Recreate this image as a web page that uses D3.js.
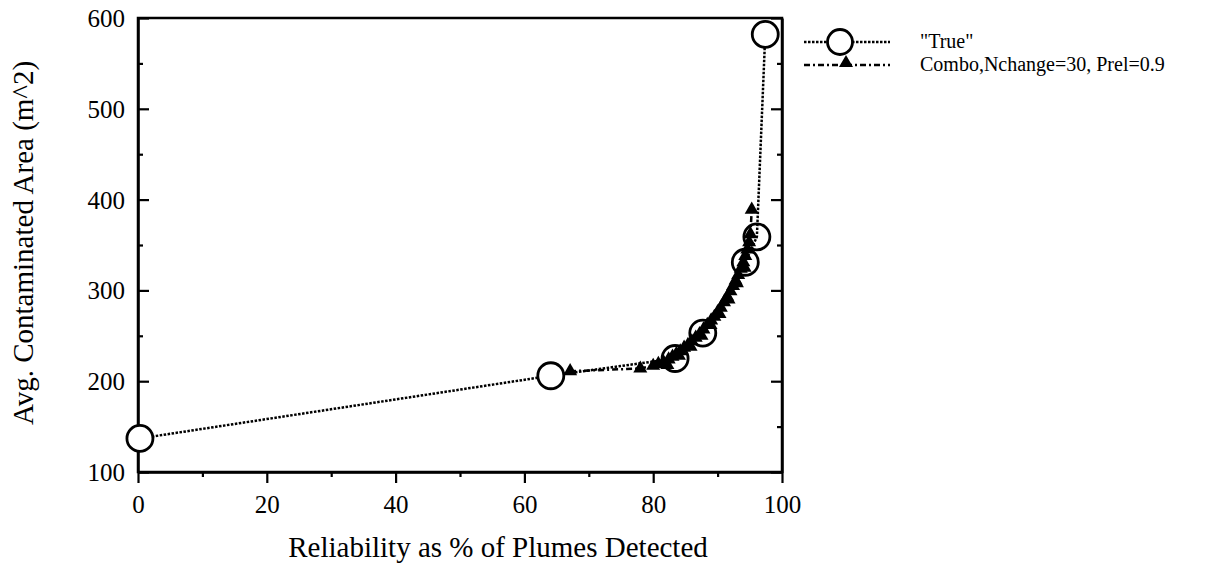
<!DOCTYPE html>
<html><head><meta charset="utf-8">
<script src="https://cdn.jsdelivr.net/npm/d3@7"></script>
<style>body{margin:0;background:#fff}svg{display:block}text{text-rendering:optimizeLegibility}</style>
</head><body>
<svg id="c" width="1230" height="573"></svg>
<script>
const xTicks = [0, 20, 40, 60, 80, 100];
const yTicks = [100, 200, 300, 400, 500, 600];
const trueX = [0.3, 64.1, 83.4, 87.7, 94.3, 96.1, 97.4];
const trueY = [137, 206, 225, 253, 331, 359, 582];
const comboX = [67.1, 78.0, 80.0, 80.8, 81.6, 82.4, 83.0, 83.6, 84.2, 84.8, 85.4, 86.0, 86.6, 87.2, 87.8, 88.4, 89.0, 89.5, 90.0, 90.5, 91.0, 91.5, 92.0, 92.4, 92.8, 93.2, 93.6, 94.0, 94.3, 94.6, 94.9, 95.1, 95.3];
const comboY = [211, 214, 217, 219, 221, 224, 227, 230, 233, 237, 240, 244, 248, 252, 257, 262, 267, 271, 276, 281, 287, 293, 299, 305, 311, 317, 324, 331, 338, 345, 353, 362, 389];
const extraX = [82.2, 84.0, 85.8, 87.5, 88.9, 90.3, 91.7, 93.0, 94.2];
const extraY = [218, 228, 238, 250, 262, 274, 290, 308, 325];
const seriesNames = ['"True"', 'Combo,Nchange=30, Prel=0.9'];

const svg = d3.select("#c");
const L = 138, R = 782, T = 18, B = 472;
const x = d3.scaleLinear().domain([0, 100]).range([L, R]);
const y = d3.scaleLinear().domain([100, 600]).range([B, T]);
const font = "Times New Roman, Liberation Serif, serif";

svg.append("rect").attr("x", L).attr("y", T).attr("width", R - L).attr("height", B - T)
  .attr("fill", "none").attr("stroke", "#000").attr("stroke-width", 2.5);

const xa = svg.append("g").attr("transform", `translate(0,${B})`)
  .call(d3.axisBottom(x).tickValues(xTicks).tickSize(11).tickSizeOuter(0).tickPadding(10));
svg.append("g").attr("transform", `translate(0,${B})`)
  .call(d3.axisBottom(x).tickValues(d3.range(10, 100, 20)).tickSize(5).tickFormat("").tickSizeOuter(0))
  .call(g => g.select(".domain").remove());
const ya = svg.append("g").attr("transform", `translate(${L},0)`)
  .call(d3.axisLeft(y).tickValues(yTicks).tickSize(-11).tickSizeOuter(0).tickPadding(12));
svg.append("g").attr("transform", `translate(${L},0)`)
  .call(d3.axisLeft(y).tickValues(d3.range(150, 600, 100)).tickSize(-5).tickFormat("").tickSizeOuter(0))
  .call(g => g.select(".domain").remove());
svg.append("g").attr("transform", `translate(${R},0)`)
  .call(d3.axisRight(y).tickValues(yTicks).tickSize(-11).tickFormat("").tickSizeOuter(0));
svg.append("g").attr("transform", `translate(${R},0)`)
  .call(d3.axisRight(y).tickValues(d3.range(150, 600, 100)).tickSize(-5).tickFormat("").tickSizeOuter(0))
  .call(g => g.select(".domain").remove());
svg.selectAll("g").attr("font-family", null).attr("font-size", null);
svg.selectAll(".tick line").attr("stroke", "#000").attr("stroke-width", 2.2);
svg.selectAll(".domain").attr("stroke", "#000").attr("stroke-width", 2.5);
svg.selectAll(".tick text").attr("font-family", font).attr("font-size", 25).attr("fill", "#000");
ya.selectAll(".tick text").attr("x", -13).attr("dy", "0.34em");
xa.selectAll(".tick text").attr("dy", "0.78em");

svg.append("text").attr("x", 498).attr("y", 557).attr("text-anchor", "middle")
  .attr("font-family", font).attr("font-size", 29).text("Reliability as % of Plumes Detected");
svg.append("text").attr("transform", `translate(33,243) rotate(-90)`).attr("text-anchor", "middle")
  .attr("font-family", font).attr("font-size", 29).text("Avg. Contaminated Area (m^2)");

const trueData = trueX.map((v, i) => [v, trueY[i]]);
const comboData = comboX.map((v, i) => [v, comboY[i]]);
const extraData = extraX.map((v, i) => [v, extraY[i]]);
const line = d3.line().x(d => x(d[0])).y(d => y(d[1]));
const tri = d3.symbol().type(d3.symbolTriangle).size(85);

svg.append("path").attr("d", line(comboData)).attr("fill", "none").attr("stroke", "#000")
  .attr("stroke-width", 2.5).attr("stroke-dasharray", "6,3,2,3");
svg.append("path").attr("d", line(trueData)).attr("fill", "none").attr("stroke", "#000")
  .attr("stroke-width", 2.5).attr("stroke-dasharray", "2.5,1.5");
svg.selectAll(".tri").data(comboData.concat(extraData)).join("path").attr("class", "tri")
  .attr("d", tri).attr("transform", d => `translate(${x(d[0])},${y(d[1])})`).attr("fill", "#000");
svg.selectAll(".circ").data(trueData).join("circle").attr("class", "circ")
  .attr("cx", d => x(d[0])).attr("cy", d => y(d[1])).attr("r", 13)
  .attr("fill", "none").attr("stroke", "#000").attr("stroke-width", 2.8);
svg.selectAll(".circ").filter(d => d[0] < 70 || d[1] > 500).attr("fill", "#fff");

const lg = svg.append("g");
lg.append("line").attr("x1", 804).attr("x2", 890).attr("y1", 42).attr("y2", 42)
  .attr("stroke", "#000").attr("stroke-width", 2.5).attr("stroke-dasharray", "2.5,1.5");
lg.append("circle").attr("cx", 840).attr("cy", 42).attr("r", 12.5).attr("fill", "#fff")
  .attr("stroke", "#000").attr("stroke-width", 2.8);
lg.append("line").attr("x1", 804).attr("x2", 890).attr("y1", 65).attr("y2", 65)
  .attr("stroke", "#000").attr("stroke-width", 2.5).attr("stroke-dasharray", "6,3,2,3");
lg.append("path").attr("d", tri).attr("transform", "translate(846,63)").attr("fill", "#000");
lg.selectAll(".lt").data(seriesNames).join("text").attr("class", "lt")
  .attr("x", 920).attr("y", (d, i) => 48 + i * 23).attr("font-family", font).attr("font-size", 20)
  .text(d => d);
</script>
</body></html>
